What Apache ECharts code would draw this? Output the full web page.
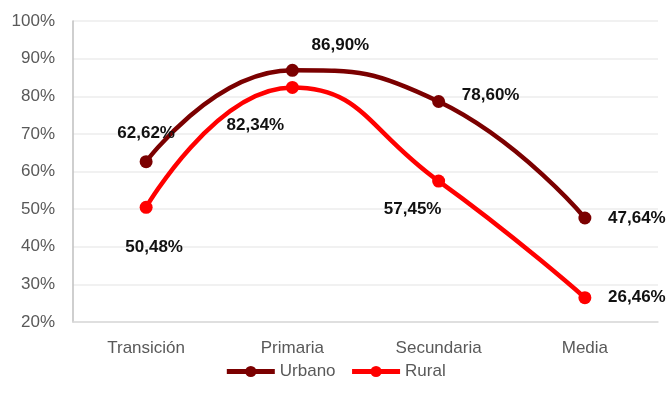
<!DOCTYPE html>
<html>
<head>
<meta charset="utf-8">
<script src="https://cdn.jsdelivr.net/npm/echarts@6/dist/echarts.min.js"></script>
<style>
  html, body { margin: 0; padding: 0; background: #fff; }
  #chart { width: 670px; height: 407px; }
</style>
</head>
<body>
<div id="chart"></div>
<script>
const categories = ['Transición', 'Primaria', 'Secundaria', 'Media']
const urbano = [62.62, 86.90, 78.60, 47.64]
const rural = [50.48, 82.34, 57.45, 26.46]
const yTicks = [20, 30, 40, 50, 60, 70, 80, 90, 100]

const font = "'Liberation Sans Narrow', 'Arial Narrow', 'Liberation Sans', sans-serif"
const fmt = v => v.toFixed(2).replace('.', ',') + '%'

// label offsets per point
const urbanoOffsets = [[0, -28], [48, -25], [52, -6], [52, 0]]
const ruralOffsets = [[8, 40], [-37, 38], [-26, 28], [52, 0]]

function withLabels(values, offsets) {
  return values.map((v, i) => ({
    value: v,
    label: { offset: offsets[i] }
  }))
}

const chart = echarts.init(document.getElementById('chart'), null, { renderer: 'canvas' })
chart.setOption({
  animation: false,
  backgroundColor: '#fff',
  textStyle: { fontFamily: font },
  grid: { left: 73, right: 12, top: 21, bottom: 85 },
  legend: {
    bottom: 22,
    left: 'center',
    itemWidth: 48,
    itemHeight: 14,
    itemGap: 14,
    lineStyle: { width: 5 },
    textStyle: { color: '#595959', fontSize: 17, fontFamily: font },
    data: ['Urbano', 'Rural']
  },
  xAxis: {
    type: 'category',
    data: categories,
    axisLine: { lineStyle: { color: '#d9d9d9', width: 1.5 } },
    axisTick: { show: false },
    axisLabel: { color: '#595959', fontSize: 17, margin: 18, fontFamily: font }
  },
  yAxis: {
    type: 'value',
    min: 20,
    max: 100,
    interval: 10,
    axisLine: { show: true, lineStyle: { color: '#bfbfbf', width: 1.5 } },
    axisTick: { show: false },
    axisLabel: {
      color: '#595959', fontSize: 17, margin: 18, fontFamily: font,
      formatter: v => yTicks.includes(v) ? v + '%' : ''
    },
    splitLine: { lineStyle: { color: '#ededed', width: 1.5 } }
  },
  series: [
    {
      name: 'Urbano',
      type: 'line',
      data: withLabels(urbano, urbanoOffsets),
      smooth: 0.5,
      symbol: 'circle',
      symbolSize: 13,
      itemStyle: { color: '#7b0000' },
      lineStyle: { color: '#7b0000', width: 4.5 },
      label: {
        show: true, position: 'inside', color: '#111', fontSize: 17, fontWeight: 'bold',
        fontFamily: font, formatter: p => fmt(p.value)
      },
      z: 3
    },
    {
      name: 'Rural',
      type: 'line',
      data: withLabels(rural, ruralOffsets),
      smooth: 0.5,
      symbol: 'circle',
      symbolSize: 13,
      itemStyle: { color: '#ff0000' },
      lineStyle: { color: '#ff0000', width: 4.5 },
      label: {
        show: true, position: 'inside', color: '#111', fontSize: 17, fontWeight: 'bold',
        fontFamily: font, formatter: p => fmt(p.value)
      },
      z: 2
    }
  ]
})
</script>
</body>
</html>
